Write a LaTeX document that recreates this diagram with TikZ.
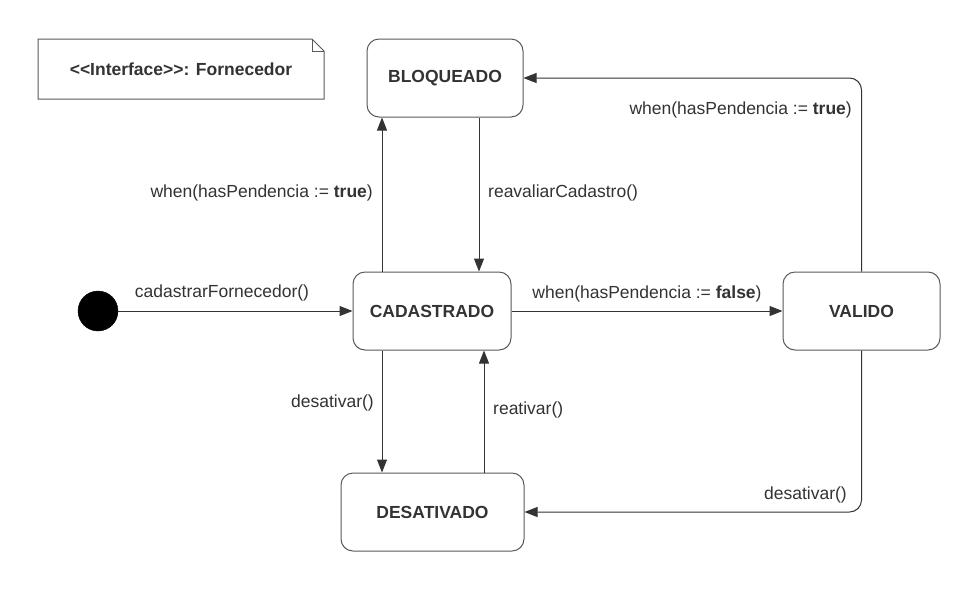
\documentclass[tikz,border=0pt]{standalone}
\usepackage{fontspec}
\setmainfont{Liberation Sans}
\usetikzlibrary{arrows.meta}
\definecolor{ink}{HTML}{333333}
\definecolor{edge}{HTML}{5A5A5A}
\tikzset{
  statebox/.style={draw=edge, line width=1pt, rounded corners=12pt, fill=white,
    inner sep=0pt, text=ink, font=\fontsize{17.5}{20}\selectfont\bfseries},
  conn/.style={draw=ink, line width=1pt, -{Triangle[length=13pt,width=10pt]}},
  lbl/.style={inner sep=0pt, text=ink, font=\fontsize{17.5}{20}\selectfont},
}
\begin{document}
\begin{tikzpicture}[x=1pt,y=-1pt]
\path[fill=white,use as bounding box] (0,0) rectangle (979,590);

% note
\draw[draw=edge, line width=1pt, fill=white] (38,39) -- (312,39) -- (324,51) -- (324,99) -- (38,99) -- cycle;
\draw[draw=edge, line width=1pt] (312,39) -- (312,51) -- (324,51);
\node[lbl, font=\fontsize{17.5}{20}\selectfont\bfseries] (note) at (181,69) {{<}{<}Interface{>}{>}: Fornecedor};

% states
\node[statebox, minimum width=156pt, minimum height=78pt] (bloq) at (445,78) {BLOQUEADO};
\node[statebox, minimum width=158pt, minimum height=78pt] (cad) at (432,311) {CADASTRADO};
\node[statebox, minimum width=157pt, minimum height=78pt] (val) at (861.5,311) {VALIDO};
\node[statebox, minimum width=183pt, minimum height=78pt] (desat) at (432.5,512) {DESATIVADO};
\node[circle, fill=black, draw=black, minimum size=40pt, inner sep=0pt] (init) at (98,311) {};

% connectors
\draw[conn] (init) -- (cad.west);
\draw[conn] ([xshift=-50pt]cad.north) -- ([xshift=-63pt]bloq.south);
\draw[conn] ([xshift=34pt]bloq.south) -- ([xshift=47pt]cad.north);
\draw[conn] ([xshift=-50pt]cad.south) -- ([xshift=-50.5pt]desat.north);
\draw[conn] ([xshift=51.5pt]desat.north) -- ([xshift=52pt]cad.south);
\draw[conn] (cad.east) -- (val.west);
\draw[conn, rounded corners=12pt] (val.north) |- (bloq.east);
\draw[conn, rounded corners=12pt] (val.south) |- (desat.east);

% labels
\node[lbl, anchor=center] (l1) at (222,293) {cadastrarFornecedor()};
\node[lbl, anchor=east] (l2) at (373,193) {when(hasPendencia := \textbf{true})};
\node[lbl, anchor=west] (l3) at (488,193) {reavaliarCadastro()};
\node[lbl, anchor=center] (l4) at (647,294) {when(hasPendencia := \textbf{false})};
\node[lbl, anchor=east] (l5) at (852,110) {when(hasPendencia := \textbf{true})};
\node[lbl, anchor=east] (l6) at (374,403) {desativar()};
\node[lbl, anchor=west] (l7) at (493,410) {reativar()};
\node[lbl, anchor=east] (l8) at (847,495) {desativar()};
\end{tikzpicture}
\end{document}
